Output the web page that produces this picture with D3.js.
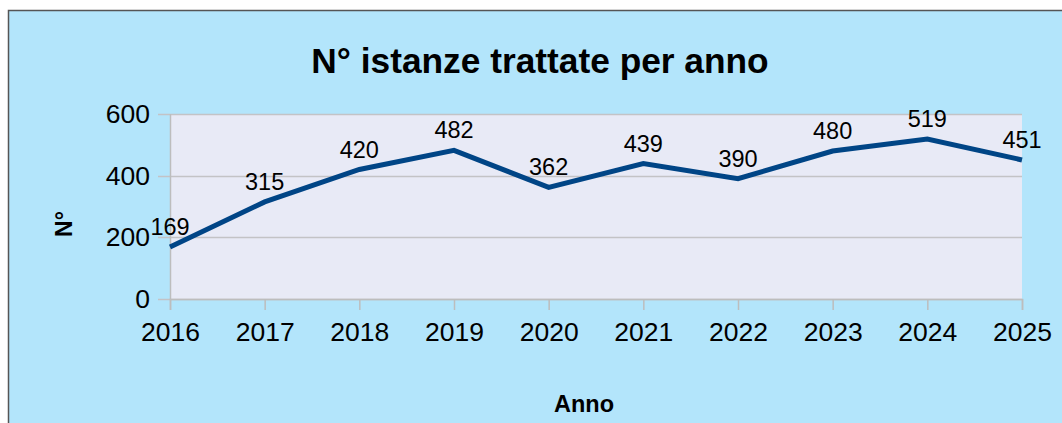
<!DOCTYPE html>
<html>
<head>
<meta charset="utf-8">
<script src="https://cdn.jsdelivr.net/npm/d3@7"></script>
<style>
  html, body { margin: 0; padding: 0; background: #ffffff; }
  svg { display: block; font-family: "Liberation Sans", Arial, sans-serif; }
</style>
</head>
<body>
<div class="chart"></div>
<script>
const years = ["2016", "2017", "2018", "2019", "2020", "2021", "2022", "2023", "2024", "2025"];
const istanze = [169, 315, 420, 482, 362, 439, 390, 480, 519, 451];
const yTicks = [0, 200, 400, 600];

const width = 1062;
const height = 423;
const plot = { left: 170, right: 1022, top: 114, bottom: 299 };

const svg = d3.select(".chart")
  .append("svg")
  .attr("width", width)
  .attr("height", height);

// chart background + border (runs off the right / bottom of the window)
svg.append("rect")
  .attr("x", 8.5)
  .attr("y", 10.5)
  .attr("width", 1100)
  .attr("height", 500)
  .attr("fill", "#b3e5fb")
  .attr("stroke", "#555555")
  .attr("stroke-width", 1.5);

const x = d3.scalePoint()
  .domain(years)
  .range([plot.left, plot.right]);

const y = d3.scaleLinear()
  .domain([0, 600])
  .range([plot.bottom, plot.top]);

svg.append("rect")
  .attr("x", plot.left)
  .attr("y", plot.top)
  .attr("width", plot.right - plot.left)
  .attr("height", plot.bottom - plot.top)
  .attr("fill", "#e8eaf6");

// grid
svg.append("g")
  .selectAll("line")
  .data(yTicks)
  .enter()
  .append("line")
  .attr("x1", plot.left - 12)
  .attr("x2", plot.right)
  .attr("y1", d => Math.round(y(d)) + 0.5)
  .attr("y2", d => Math.round(y(d)) + 0.5)
  .attr("stroke", "#c3c3c6")
  .attr("stroke-width", 1.5);

// axes
const yAxis = svg.append("g")
  .attr("transform", `translate(${plot.left},0)`)
  .call(d3.axisLeft(y).tickValues(yTicks).tickSize(0).tickPadding(20));

const xAxis = svg.append("g")
  .attr("transform", `translate(0,${plot.bottom})`)
  .call(d3.axisBottom(x).tickSize(11).tickPadding(12));

[yAxis, xAxis].forEach(a => {
  a.select(".domain").attr("stroke", "#bdbdbd").attr("stroke-width", 1.5);
  a.selectAll(".tick line").attr("stroke", "#bdbdbd").attr("stroke-width", 1.5);
  a.selectAll("text")
    .attr("fill", "#000")
    .style("font-family", "Liberation Sans, Arial, sans-serif")
    .style("font-size", "26.5px");
});
yAxis.select(".domain").attr("d", `M0.5,${plot.top}V${plot.bottom}`);

// line
const line = d3.line()
  .x((d, i) => x(years[i]))
  .y(d => y(d));

svg.append("path")
  .datum(istanze)
  .attr("d", line)
  .attr("fill", "none")
  .attr("stroke", "#004586")
  .attr("stroke-width", 5);

// data labels
svg.append("g")
  .selectAll("text")
  .data(istanze)
  .enter()
  .append("text")
  .attr("x", (d, i) => x(years[i]))
  .attr("y", d => y(d) - 12)
  .attr("text-anchor", "middle")
  .attr("font-size", "23.5px")
  .attr("fill", "#000")
  .text(d => d);

// titles
svg.append("text")
  .attr("x", 540)
  .attr("y", 73)
  .attr("text-anchor", "middle")
  .attr("font-size", "35.3px")
  .attr("font-weight", "bold")
  .text("N° istanze trattate per anno");

svg.append("text")
  .attr("transform", "translate(72,224) rotate(-90)")
  .attr("text-anchor", "middle")
  .attr("font-size", "23px")
  .attr("font-weight", "bold")
  .text("N°");

svg.append("text")
  .attr("x", 584)
  .attr("y", 412)
  .attr("text-anchor", "middle")
  .attr("font-size", "23.5px")
  .attr("font-weight", "bold")
  .text("Anno");
</script>
</body>
</html>
